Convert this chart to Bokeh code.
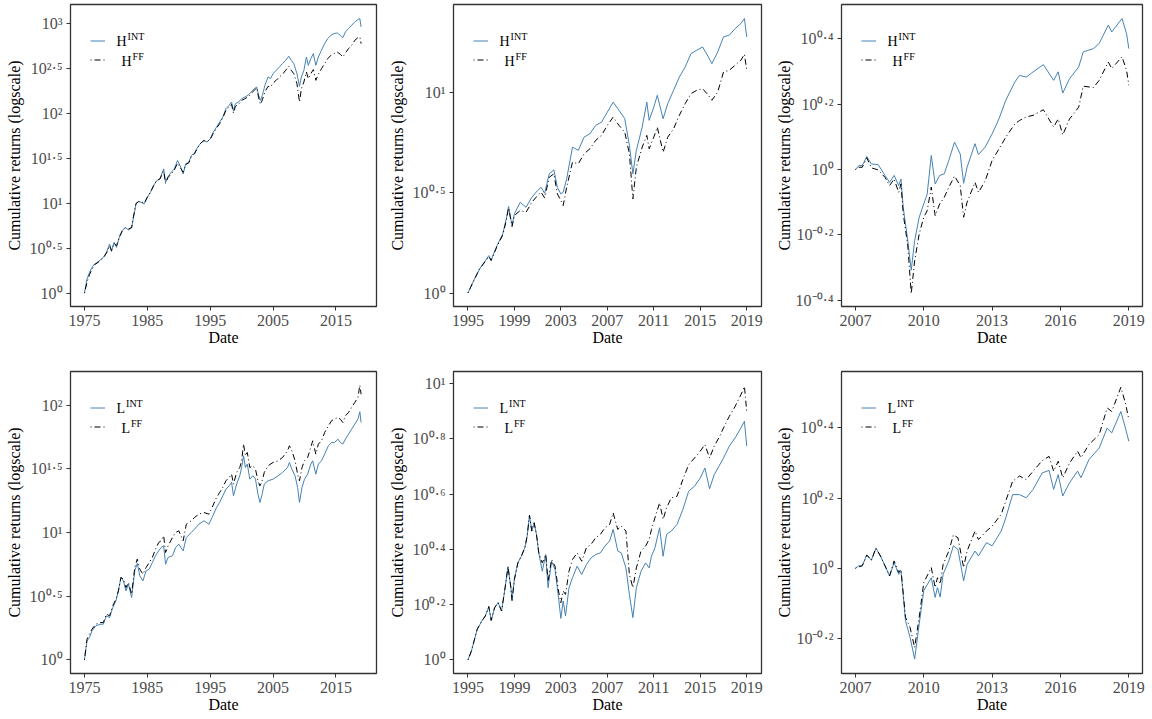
import numpy as np
from bokeh.plotting import figure
from bokeh.layouts import row, column
from bokeh.models import Range1d, FixedTicker, Label, Legend, LegendItem, CustomJSTickFormatter
from bokeh.embed import file_html
from bokeh.resources import INLINE

FONT = "Liberation Serif"
BLUE = "#4682B4"
GREY = "#4D4D4D"
FRAME = "#333333"
SUP = str.maketrans("0123456789-.", "⁰¹²³⁴⁵⁶⁷⁸⁹⁻·")

# values are log10 of the cumulative return

# H portfolio, 1975-2019
h75_years = [1975.0, 1975.4, 1975.8, 1976.2, 1976.6, 1977.0, 1977.5, 1978.0, 1978.5, 1979.0,
             1979.3, 1979.7, 1980.1, 1980.6, 1981.0, 1981.5, 1982.0, 1982.5, 1982.8, 1983.2,
             1983.6, 1984.0, 1984.5, 1985.0, 1985.5, 1986.0, 1986.5, 1987.0, 1987.6, 1987.9,
             1988.3, 1988.8, 1989.3, 1989.8, 1990.2, 1990.7, 1991.1, 1991.6, 1992.0, 1992.5,
             1993.0, 1993.5, 1994.0, 1994.5, 1995.0, 1995.5, 1996.0, 1996.5, 1997.0, 1997.5,
             1998.0, 1998.4, 1998.7, 1999.0, 1999.5, 2000.0, 2000.5, 2001.0, 2001.5, 2002.0,
             2002.4, 2002.7, 2003.0, 2003.3, 2003.7, 2004.2, 2004.6, 2005.0, 2005.5, 2006.0,
             2006.5, 2007.0, 2007.5, 2007.9, 2008.3, 2008.8, 2009.2, 2009.5, 2009.9, 2010.3,
             2010.6, 2011.0, 2011.4, 2011.8, 2012.2, 2012.7, 2013.2, 2013.7, 2014.2, 2014.7,
             2015.2, 2015.7, 2016.1, 2016.5, 2017.0, 2017.5, 2018.0, 2018.5, 2018.8, 2019.0]
h75_int = [0.000, 0.156, 0.230, 0.287, 0.324, 0.342, 0.369, 0.398, 0.454, 0.547,
           0.465, 0.566, 0.510, 0.640, 0.696, 0.733, 0.704, 0.726, 0.845, 0.994,
           1.020, 1.013, 0.994, 1.069, 1.124, 1.199, 1.255, 1.273, 1.385, 1.236,
           1.300, 1.348, 1.385, 1.478, 1.422, 1.329, 1.441, 1.459, 1.534, 1.560,
           1.627, 1.672, 1.701, 1.683, 1.720, 1.794, 1.850, 1.906, 1.962, 2.055,
           2.092, 2.130, 2.029, 2.111, 2.130, 2.167, 2.185, 2.204, 2.241, 2.278,
           2.297, 2.204, 2.148, 2.204, 2.316, 2.409, 2.391, 2.446, 2.483, 2.520,
           2.558, 2.595, 2.640, 2.595, 2.558, 2.446, 2.305, 2.409, 2.483, 2.632,
           2.539, 2.614, 2.669, 2.539, 2.632, 2.707, 2.781, 2.837, 2.874, 2.893,
           2.900, 2.874, 2.848, 2.911, 2.949, 2.986, 3.023, 3.049, 3.060, 2.967]
h75_ff = [0.000, 0.119, 0.205, 0.268, 0.316, 0.335, 0.361, 0.391, 0.447, 0.529,
          0.473, 0.555, 0.529, 0.630, 0.689, 0.726, 0.715, 0.733, 0.853, 1.000,
          1.020, 1.020, 1.000, 1.069, 1.124, 1.199, 1.255, 1.273, 1.359, 1.225,
          1.290, 1.329, 1.374, 1.448, 1.404, 1.348, 1.433, 1.452, 1.523, 1.553,
          1.620, 1.672, 1.701, 1.690, 1.713, 1.783, 1.839, 1.888, 1.955, 2.036,
          2.074, 2.104, 2.007, 2.081, 2.104, 2.148, 2.167, 2.185, 2.223, 2.260,
          2.290, 2.178, 2.104, 2.156, 2.241, 2.305, 2.297, 2.342, 2.372, 2.409,
          2.439, 2.483, 2.528, 2.483, 2.446, 2.334, 2.130, 2.278, 2.353, 2.465,
          2.390, 2.446, 2.491, 2.372, 2.439, 2.502, 2.558, 2.614, 2.651, 2.669,
          2.688, 2.662, 2.632, 2.677, 2.725, 2.762, 2.818, 2.848, 2.856, 2.781]

# H portfolio, 1995-2019
h95_years = [1995.0, 1995.5, 1996.0, 1996.5, 1996.8, 1997.0, 1997.5, 1998.0, 1998.3, 1998.5,
             1998.8, 1999.0, 1999.5, 2000.0, 2000.5, 2001.0, 2001.3, 2001.6, 2002.0, 2002.4,
             2002.7, 2003.0, 2003.2, 2003.5, 2004.0, 2004.5, 2005.0, 2005.5, 2006.0, 2006.5,
             2007.0, 2007.5, 2008.0, 2008.5, 2008.9, 2009.2, 2009.5, 2010.0, 2010.4, 2010.6,
             2011.0, 2011.3, 2011.8, 2012.2, 2012.7, 2013.2, 2013.7, 2014.2, 2014.7, 2015.2,
             2015.7, 2016.0, 2016.5, 2017.0, 2017.5, 2018.0, 2018.5, 2018.8, 2019.0]
h95_int = [0.000, 0.062, 0.120, 0.162, 0.187, 0.165, 0.237, 0.295, 0.370, 0.432,
           0.337, 0.395, 0.453, 0.428, 0.478, 0.512, 0.528, 0.498, 0.595, 0.615,
           0.528, 0.495, 0.503, 0.570, 0.728, 0.712, 0.778, 0.795, 0.837, 0.853,
           0.903, 0.953, 0.912, 0.870, 0.737, 0.595, 0.712, 0.828, 0.953, 0.862,
           0.928, 0.987, 0.870, 0.945, 1.012, 1.078, 1.128, 1.195, 1.212, 1.228,
           1.178, 1.145, 1.203, 1.278, 1.287, 1.320, 1.345, 1.370, 1.278]
h95_ff = [0.000, 0.062, 0.120, 0.158, 0.182, 0.162, 0.232, 0.290, 0.362, 0.425,
          0.332, 0.387, 0.412, 0.403, 0.453, 0.487, 0.503, 0.475, 0.578, 0.595,
          0.495, 0.462, 0.437, 0.528, 0.653, 0.645, 0.695, 0.720, 0.762, 0.787,
          0.837, 0.878, 0.837, 0.803, 0.695, 0.470, 0.628, 0.728, 0.787, 0.720,
          0.778, 0.828, 0.703, 0.778, 0.820, 0.887, 0.945, 0.995, 1.012, 1.020,
          0.987, 0.962, 1.003, 1.103, 1.112, 1.137, 1.162, 1.192, 1.112]

# H portfolio, 2007-2019
h07_years = [2007.0, 2007.15, 2007.3, 2007.5, 2007.7, 2008.0, 2008.3, 2008.5, 2008.7, 2008.9,
             2009.0, 2009.1, 2009.3, 2009.45, 2009.6, 2009.8, 2010.0, 2010.15, 2010.33, 2010.5,
             2010.7, 2010.9, 2011.1, 2011.35, 2011.6, 2011.75, 2011.9, 2012.25, 2012.4, 2012.7,
             2013.0, 2013.3, 2013.6, 2014.0, 2014.2, 2014.5, 2014.8, 2015.25, 2015.7, 2015.9,
             2016.1, 2016.4, 2016.8, 2017.0, 2017.45, 2017.7, 2018.1, 2018.25, 2018.7, 2018.9,
             2019.0]
h07_int = [0.000, 0.012, 0.012, 0.040, 0.017, 0.015, -0.018, -0.039, -0.018, -0.049,
           -0.029, -0.116, -0.218, -0.308, -0.218, -0.146, -0.105, -0.075, 0.043, -0.044,
           -0.018, -0.013, 0.028, 0.084, 0.048, -0.042, 0.007, 0.079, 0.046, 0.069,
           0.109, 0.155, 0.212, 0.268, 0.288, 0.283, 0.299, 0.321, 0.273, 0.299,
           0.234, 0.278, 0.314, 0.360, 0.370, 0.386, 0.442, 0.421, 0.462, 0.416,
           0.370]
h07_ff = [0.000, 0.007, 0.007, 0.036, 0.005, -0.001, -0.024, -0.049, -0.029, -0.070,
          -0.044, -0.136, -0.233, -0.380, -0.279, -0.197, -0.146, -0.126, -0.054, -0.141,
          -0.105, -0.085, -0.054, -0.020, -0.049, -0.146, -0.100, -0.039, -0.070, -0.034,
          0.028, 0.063, 0.099, 0.140, 0.150, 0.161, 0.166, 0.183, 0.130, 0.155,
          0.106, 0.155, 0.191, 0.255, 0.251, 0.273, 0.329, 0.309, 0.345, 0.304,
          0.258]

# L portfolio, 1975-2019
l75_years = [1975.0, 1975.4, 1975.8, 1976.2, 1976.8, 1977.5, 1978.0, 1978.5, 1979.0, 1979.5,
             1980.0, 1980.4, 1980.8, 1981.2, 1981.6, 1982.0, 1982.5, 1983.0, 1983.4, 1983.8,
             1984.3, 1984.8, 1985.3, 1985.8, 1986.3, 1986.8, 1987.2, 1987.6, 1987.9, 1988.3,
             1989.0, 1989.5, 1990.0, 1990.7, 1991.2, 1992.0, 1992.5, 1993.2, 1994.0, 1994.8,
             1995.3, 1996.0, 1996.5, 1997.0, 1997.5, 1998.0, 1998.4, 1998.7, 1999.2, 1999.7,
             2000.0, 2000.3, 2000.6, 2000.9, 2001.3, 2001.8, 2002.2, 2002.6, 2002.9, 2003.2,
             2003.6, 2004.2, 2005.0, 2005.8, 2006.5, 2007.3, 2007.6, 2008.0, 2008.5, 2008.9,
             2009.2, 2009.6, 2010.0, 2010.5, 2011.0, 2011.3, 2011.8, 2012.2, 2012.7, 2013.2,
             2013.8, 2014.3, 2014.8, 2015.3, 2015.7, 2016.1, 2016.5, 2017.0, 2017.5, 2018.0,
             2018.5, 2018.8, 2019.0]
l75_int = [0.000, 0.149, 0.175, 0.228, 0.267, 0.280, 0.280, 0.346, 0.332, 0.411,
           0.463, 0.542, 0.647, 0.620, 0.542, 0.594, 0.490, 0.699, 0.757, 0.660,
           0.620, 0.699, 0.712, 0.764, 0.817, 0.856, 0.882, 0.895, 0.751, 0.804,
           0.817, 0.882, 0.908, 0.856, 0.961, 1.000, 1.026, 1.065, 1.092, 1.065,
           1.118, 1.196, 1.236, 1.288, 1.340, 1.366, 1.393, 1.288, 1.380, 1.445,
           1.510, 1.602, 1.510, 1.537, 1.419, 1.445, 1.419, 1.301, 1.236, 1.288,
           1.380, 1.406, 1.419, 1.445, 1.471, 1.510, 1.550, 1.497, 1.445, 1.353,
           1.236, 1.353, 1.419, 1.458, 1.537, 1.563, 1.458, 1.537, 1.563, 1.615,
           1.681, 1.707, 1.707, 1.733, 1.707, 1.694, 1.733, 1.772, 1.812, 1.851,
           1.890, 1.948, 1.864]
l75_ff = [0.000, 0.162, 0.202, 0.241, 0.280, 0.293, 0.293, 0.359, 0.346, 0.424,
          0.476, 0.542, 0.647, 0.634, 0.568, 0.607, 0.516, 0.725, 0.791, 0.712,
          0.673, 0.725, 0.764, 0.804, 0.869, 0.921, 0.935, 0.974, 0.843, 0.895,
          0.961, 1.000, 1.013, 0.935, 1.065, 1.092, 1.118, 1.144, 1.157, 1.144,
          1.196, 1.275, 1.314, 1.353, 1.406, 1.432, 1.458, 1.380, 1.471, 1.510,
          1.563, 1.694, 1.602, 1.628, 1.510, 1.524, 1.497, 1.406, 1.366, 1.393,
          1.471, 1.524, 1.550, 1.563, 1.589, 1.641, 1.681, 1.641, 1.563, 1.458,
          1.406, 1.510, 1.563, 1.589, 1.668, 1.720, 1.615, 1.694, 1.720, 1.785,
          1.838, 1.877, 1.890, 1.903, 1.890, 1.864, 1.916, 1.942, 1.982, 2.021,
          2.060, 2.157, 2.086]

# L portfolio, 1995-2019
l95_years = [1995.0, 1995.3, 1995.8, 1996.2, 1996.5, 1996.8, 1997.0, 1997.3, 1997.6, 1997.9,
             1998.2, 1998.45, 1998.7, 1998.8, 1999.0, 1999.3, 1999.6, 1999.9, 2000.1, 2000.3,
             2000.5, 2000.7, 2000.9, 2001.1, 2001.4, 2001.7, 2001.9, 2002.2, 2002.5, 2002.8,
             2003.0, 2003.2, 2003.4, 2003.7, 2004.0, 2004.4, 2004.8, 2005.2, 2005.6, 2006.0,
             2006.4, 2006.8, 2007.2, 2007.5, 2007.9, 2008.2, 2008.6, 2008.9, 2009.2, 2009.5,
             2009.9, 2010.3, 2010.6, 2010.8, 2011.1, 2011.5, 2011.8, 2012.1, 2012.5, 2013.0,
             2013.5, 2014.0, 2014.5, 2015.0, 2015.4, 2015.8, 2016.2, 2016.6, 2017.0, 2017.5,
             2018.0, 2018.5, 2018.8, 2019.0]
l95_int = [0.000, 0.032, 0.111, 0.141, 0.159, 0.193, 0.143, 0.189, 0.207, 0.177,
           0.261, 0.337, 0.261, 0.215, 0.291, 0.351, 0.375, 0.406, 0.448, 0.523,
           0.466, 0.496, 0.454, 0.387, 0.321, 0.381, 0.261, 0.357, 0.327, 0.225,
           0.150, 0.213, 0.159, 0.261, 0.297, 0.339, 0.309, 0.345, 0.369, 0.381,
           0.387, 0.412, 0.430, 0.472, 0.394, 0.387, 0.333, 0.237, 0.153, 0.261,
           0.321, 0.351, 0.333, 0.375, 0.406, 0.478, 0.375, 0.454, 0.466, 0.490,
           0.544, 0.610, 0.628, 0.658, 0.694, 0.619, 0.670, 0.700, 0.730, 0.773,
           0.803, 0.839, 0.863, 0.773]
l95_ff = [0.000, 0.032, 0.111, 0.141, 0.159, 0.193, 0.143, 0.189, 0.207, 0.177,
          0.261, 0.337, 0.261, 0.215, 0.291, 0.351, 0.375, 0.406, 0.448, 0.523,
          0.466, 0.496, 0.454, 0.387, 0.351, 0.381, 0.285, 0.363, 0.339, 0.249,
          0.207, 0.249, 0.237, 0.321, 0.363, 0.387, 0.357, 0.406, 0.418, 0.442,
          0.454, 0.478, 0.490, 0.532, 0.472, 0.484, 0.466, 0.309, 0.261, 0.333,
          0.394, 0.412, 0.436, 0.472, 0.514, 0.568, 0.508, 0.550, 0.586, 0.592,
          0.652, 0.706, 0.730, 0.755, 0.779, 0.730, 0.773, 0.803, 0.839, 0.881,
          0.917, 0.959, 0.989, 0.899]

# L portfolio, 2007-2019
l07_years = [2007.0, 2007.15, 2007.3, 2007.5, 2007.7, 2007.9, 2008.1, 2008.3, 2008.5, 2008.7,
             2008.9, 2009.0, 2009.2, 2009.4, 2009.6, 2009.8, 2010.0, 2010.33, 2010.5, 2010.6,
             2010.72, 2010.85, 2011.1, 2011.3, 2011.5, 2011.75, 2011.9, 2012.25, 2012.4, 2012.75,
             2013.0, 2013.4, 2013.6, 2013.9, 2014.2, 2014.5, 2014.8, 2015.2, 2015.5, 2015.7,
             2015.9, 2016.1, 2016.4, 2016.75, 2016.9, 2017.25, 2017.7, 2018.05, 2018.25, 2018.65,
             2018.85, 2019.0]
l07_int = [0.000, 0.007, 0.007, 0.038, 0.023, 0.057, 0.035, 0.007, -0.022, 0.016,
           -0.017, -0.008, -0.150, -0.197, -0.259, -0.159, -0.064, -0.027, -0.083, -0.055,
           -0.082, -0.017, 0.021, 0.064, 0.054, -0.036, 0.011, 0.049, 0.035, 0.073,
           0.064, 0.106, 0.144, 0.210, 0.210, 0.201, 0.225, 0.272, 0.279, 0.225,
           0.267, 0.206, 0.244, 0.277, 0.258, 0.310, 0.343, 0.400, 0.386, 0.447,
           0.400, 0.362]
l07_ff = [0.000, 0.004, 0.007, 0.038, 0.023, 0.057, 0.035, 0.007, -0.022, 0.021,
          -0.012, -0.003, -0.140, -0.169, -0.226, -0.140, -0.041, 0.002, -0.055, -0.027,
          -0.045, 0.011, 0.049, 0.095, 0.087, 0.002, 0.049, 0.106, 0.082, 0.106,
          0.120, 0.154, 0.192, 0.248, 0.263, 0.253, 0.277, 0.307, 0.319, 0.277,
          0.305, 0.258, 0.300, 0.334, 0.315, 0.353, 0.381, 0.457, 0.447, 0.516,
          0.471, 0.424]

ticks_75 = [1975, 1985, 1995, 2005, 2015]
ticks_95 = [1995, 1999, 2003, 2007, 2011, 2015, 2019]
ticks_07 = [2007, 2010, 2013, 2016, 2019]

# exponents shown on the log axes
yt_h75 = [0, 0.5, 1, 1.5, 2, 2.5, 3]
yt_h95 = [0, 0.5, 1]
yt_h07 = [-0.4, -0.2, 0, 0.2, 0.4]
yt_l75 = [0, 0.5, 1, 1.5, 2]
yt_l95 = [0, 0.2, 0.4, 0.6, 0.8, 1]
yt_l07 = [-0.2, 0, 0.2, 0.4]

CHAR_W = {"H": 0.722, "L": 0.611}


def panel(years, v_int, v_ff, letter, xr, xticks, yr, yticks,
          width, left, right, height, top, bottom, label_gap):
    p = figure(width=width, height=height,
               x_range=Range1d(*xr), y_range=Range1d(10 ** yr[0], 10 ** yr[1]),
               y_axis_type="log", output_backend="svg", toolbar_location=None,
               min_border_left=left, min_border_right=right,
               min_border_top=top, min_border_bottom=bottom)
    frame_h = height - top - bottom
    p.background_fill_color = "white"
    p.border_fill_color = "white"
    p.grid.grid_line_color = None
    p.outline_line_color = FRAME
    p.outline_line_width = 1.3

    for ax in (p.xaxis, p.yaxis):
        ax.axis_line_color = None
        ax.major_tick_line_color = FRAME
        ax.major_tick_out = 4
        ax.major_tick_in = 0
        ax.minor_tick_line_color = None
        ax.major_label_text_font = FONT
        ax.major_label_text_font_size = "16px"
        ax.major_label_text_color = GREY
        ax.axis_label_text_font = FONT
        ax.axis_label_text_font_size = "16px"
        ax.axis_label_text_font_style = "normal"
        ax.axis_label_text_color = "black"

    p.xaxis.ticker = FixedTicker(ticks=xticks)
    p.xaxis.major_label_standoff = 4
    p.xaxis.axis_label = "Date"
    p.xaxis.axis_label_standoff = 0

    labels = ["10" + format(t, "g").translate(SUP) for t in yticks]
    p.yaxis.ticker = FixedTicker(ticks=[10 ** t for t in yticks])
    p.yaxis.formatter = CustomJSTickFormatter(args=dict(labels=labels),
                                              code="return labels[index]")
    p.yaxis.major_label_standoff = 4
    p.yaxis.axis_label = "Cumulative returns (logscale)"
    p.yaxis.axis_label_standoff = label_gap

    r_int = p.line(years, 10 ** np.array(v_int), line_color=BLUE, line_width=1)
    r_ff = p.line(years, 10 ** np.array(v_ff), line_color="black",
                  line_width=1, line_dash="1 3 6 3")

    legend = Legend(items=[LegendItem(label=" ", renderers=[r_int]),
                           LegendItem(label=" ", renderers=[r_ff])],
                    location=(20, frame_h - 65), glyph_width=15, glyph_height=19,
                    label_height=19, label_width=0, spacing=0, padding=0, margin=0,
                    label_standoff=0, border_line_color=None,
                    background_fill_alpha=0, label_text_font_size="8px")
    p.add_layout(legend)

    for row_y, sup, main_x in [(37, "INT", 46), (57, "FF", 51)]:
        p.add_layout(Label(x=main_x, y=frame_h - row_y, x_units="screen",
                           y_units="screen", text=letter, text_font=FONT,
                           text_font_size="14px", text_color="black",
                           text_baseline="middle"))
        p.add_layout(Label(x=main_x + CHAR_W[letter] * 14 + 1, y=frame_h - row_y,
                           x_units="screen", y_units="screen", text=sup,
                           text_font=FONT, text_font_size="10px",
                           text_color="black", text_baseline="middle",
                           y_offset=5))
    return p


xr_75 = (1972.78, 2021.45)
xr_95 = (1993.76, 2020.27)
xr_07 = (2006.39, 2019.6)

p1 = panel(h75_years, h75_int, h75_ff, "H", xr_75, ticks_75, (-0.149, 3.217), yt_h75,
           384, 70, 8, 360, 4, 54, 4)
p2 = panel(h95_years, h95_int, h95_ff, "H", xr_95, ticks_95, (-0.067, 1.44), yt_h95,
           384, 69, 7, 360, 4, 54, 4)
p3 = panel(h07_years, h07_int, h07_ff, "H", xr_07, ticks_07, (-0.419, 0.505), yt_h07,
           382, 73, 8, 360, 4, 54, 0)
p4 = panel(l75_years, l75_int, l75_ff, "L", xr_75, ticks_75, (-0.107, 2.264), yt_l75,
           384, 70, 8, 357, 11, 44, 4)
p5 = panel(l95_years, l95_int, l95_ff, "L", xr_95, ticks_95, (-0.049, 1.043), yt_l95,
           384, 69, 7, 357, 11, 44, 4)
p6 = panel(l07_years, l07_int, l07_ff, "L", xr_07, ticks_07, (-0.300, 0.561), yt_l07,
           382, 73, 8, 357, 11, 44, 0)

layout = column(row(p1, p2, p3), row(p4, p5, p6))
open("out.html", "w").write(file_html(layout, INLINE))
